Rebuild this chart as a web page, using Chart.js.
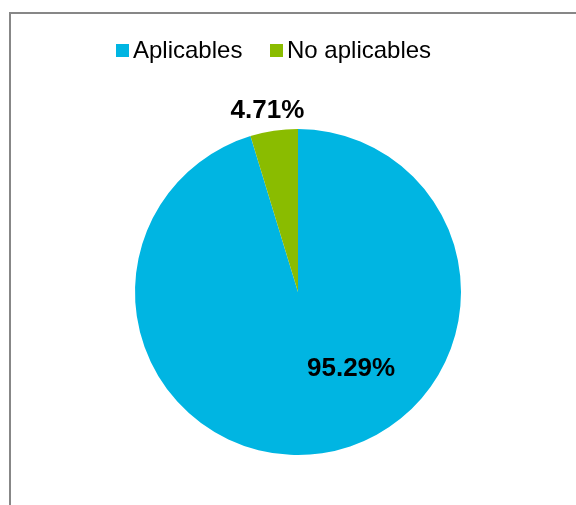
<!DOCTYPE html>
<html>
<head>
<meta charset="utf-8">
<script src="https://cdn.jsdelivr.net/npm/chart.js@4/dist/chart.umd.min.js"></script>
<style>
  html, body { margin: 0; padding: 0; background: #fff; }
  body { width: 576px; height: 505px; position: relative; overflow: hidden; font-family: "Liberation Sans", Arial, sans-serif; }
  #frame { position: absolute; left: 9px; top: 12px; width: 620px; height: 560px; border-left: 2px solid #878787; border-top: 2px solid #878787; box-sizing: border-box; }
  #wrap { position: absolute; left: 0; top: 0; width: 576px; height: 505px; }
  #legend { position: absolute; left: 116px; top: 38px; display: flex; align-items: center; font-size: 24px; line-height: 24px; color: #000; white-space: nowrap; }
  #legend .item { display: flex; align-items: center; }
  #legend .box { width: 13px; height: 13px; margin-right: 4px; }
  #legend .item + .item { margin-left: 27.6px; }
</style>
</head>
<body>
<div id="frame"></div>
<div id="wrap"><canvas id="c" width="576" height="505"></canvas></div>
<div id="legend"></div>
<script>
const categories = ["Aplicables", "No aplicables"];
const values = [95.29, 4.71];
const colors = ["#00B5E2", "#8ABC00"];
// label placement (style): radius factor and angular shift (degrees) from slice middle
const labelRadius = [0.56, 1.14];
const labelShiftDeg = [-27.1, -1.0];

// HTML legend
const legend = document.getElementById('legend');
categories.forEach((c, i) => {
  const item = document.createElement('div');
  item.className = 'item';
  const box = document.createElement('span');
  box.className = 'box';
  box.style.background = colors[i];
  const t = document.createElement('span');
  t.textContent = c;
  item.appendChild(box);
  item.appendChild(t);
  legend.appendChild(item);
});

const labelPlugin = {
  id: 'sliceLabels',
  afterDatasetsDraw(chart) {
    const ctx = chart.ctx;
    const meta = chart.getDatasetMeta(0);
    ctx.save();
    ctx.font = 'bold 26px "Liberation Sans", Arial, sans-serif';
    ctx.fillStyle = '#000';
    ctx.textAlign = 'center';
    ctx.textBaseline = 'alphabetic';
    meta.data.forEach((arc, i) => {
      const p = arc.getProps(['x', 'y', 'startAngle', 'endAngle', 'outerRadius'], true);
      const mid = (p.startAngle + p.endAngle) / 2 + labelShiftDeg[i] * Math.PI / 180;
      const r = p.outerRadius * labelRadius[i];
      const cx = p.x + Math.cos(mid) * r;
      const cy = p.y + Math.sin(mid) * r;
      ctx.fillText(values[i].toFixed(2) + '%', cx, cy + 0.716 * 26 / 2);
    });
    ctx.restore();
  }
};

new Chart(document.getElementById('c'), {
  type: 'pie',
  data: {
    labels: categories,
    datasets: [{
      data: values,
      backgroundColor: colors,
      borderWidth: 0
    }]
  },
  options: {
    responsive: false,
    animation: false,
    layout: { padding: { left: 135, right: 115, top: 129, bottom: 50 } },
    plugins: {
      legend: { display: false },
      tooltip: { enabled: false }
    }
  },
  plugins: [labelPlugin]
});
</script>
</body>
</html>
